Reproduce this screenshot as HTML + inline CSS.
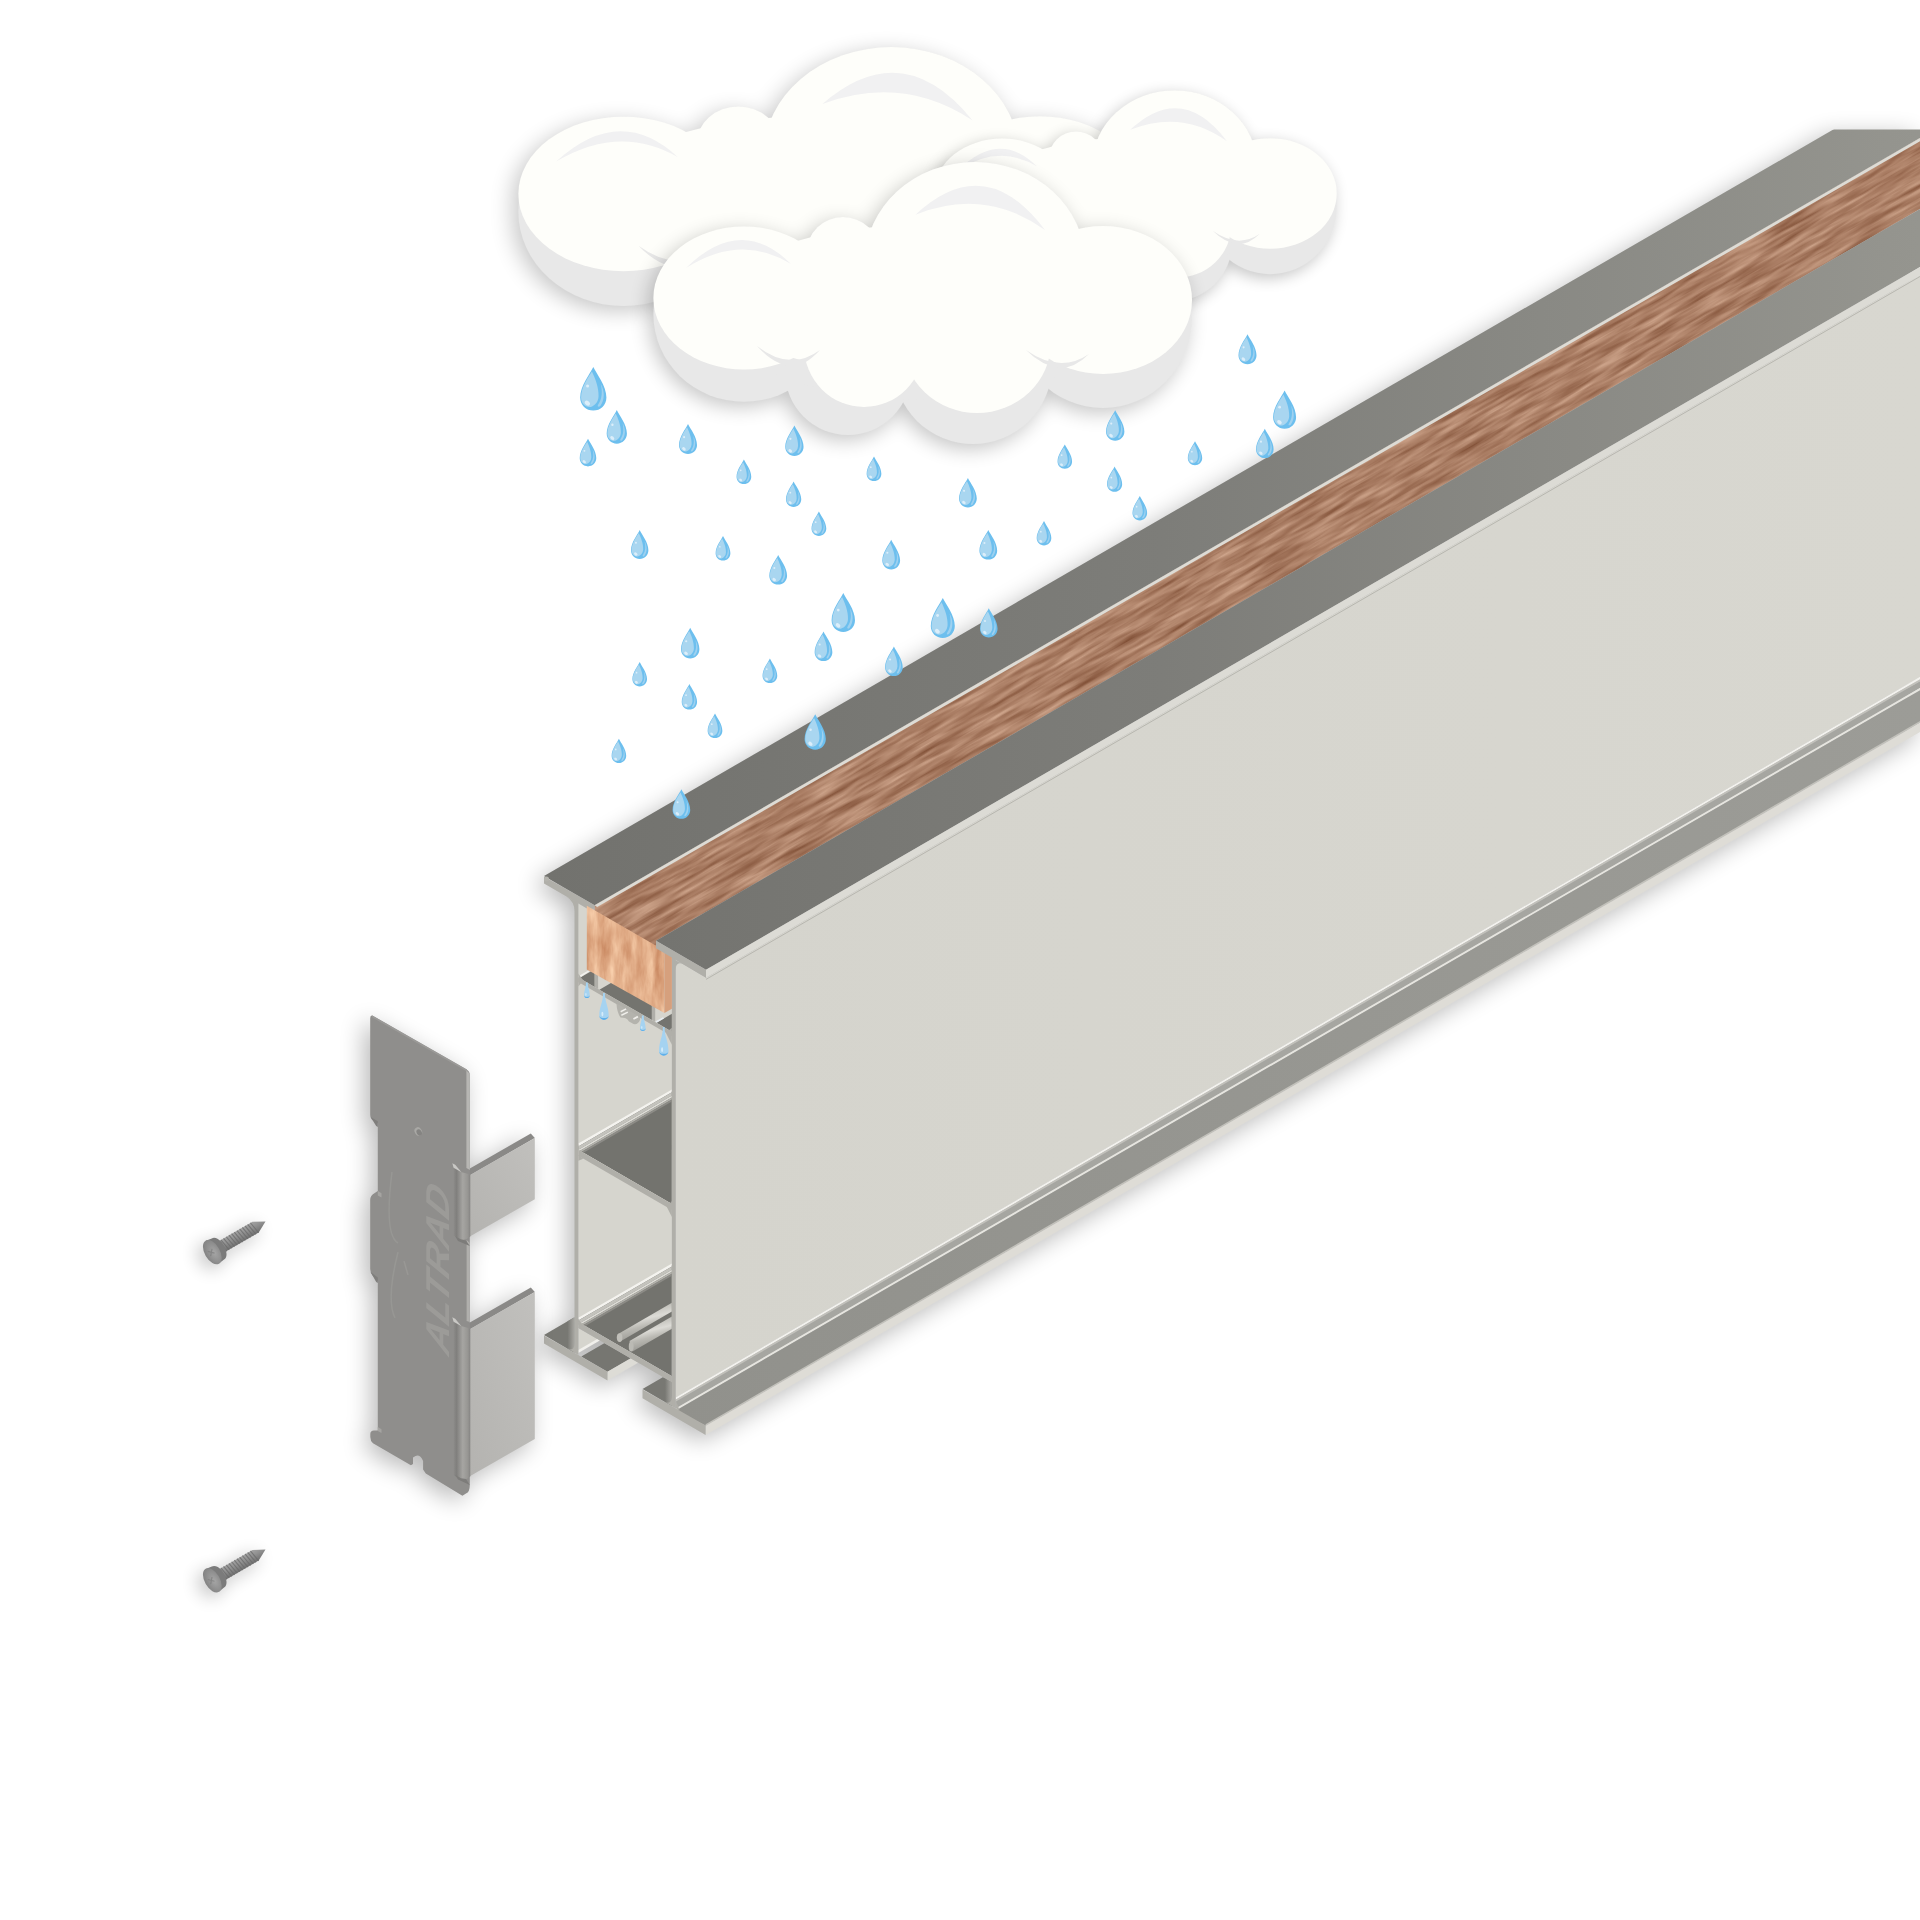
<!DOCTYPE html>
<html><head><meta charset="utf-8"><title>Drainage beam illustration</title>
<style>html,body{margin:0;padding:0;background:#fff}svg{display:block}</style></head>
<body>
<svg width="1920" height="1920" viewBox="0 0 1920 1920">
<rect width="1920" height="1920" fill="#ffffff"/>
<defs>
<filter id="sh" x="-10%" y="-10%" width="120%" height="120%" color-interpolation-filters="sRGB">
  <feGaussianBlur in="SourceAlpha" stdDeviation="12"/>
  <feOffset dx="-6" dy="6" result="b"/>
  <feComponentTransfer><feFuncA type="linear" slope="0.28"/></feComponentTransfer>
  <feMerge><feMergeNode/><feMergeNode in="SourceGraphic"/></feMerge>
</filter>
<filter id="she" x="-40%" y="-10%" width="180%" height="120%" color-interpolation-filters="sRGB">
  <feGaussianBlur in="SourceAlpha" stdDeviation="12"/>
  <feOffset dx="-6" dy="6" result="b"/>
  <feComponentTransfer><feFuncA type="linear" slope="0.28"/></feComponentTransfer>
  <feMerge><feMergeNode/><feMergeNode in="SourceGraphic"/></feMerge>
</filter>
<filter id="shc" x="-10%" y="-15%" width="120%" height="135%" color-interpolation-filters="sRGB">
  <feGaussianBlur in="SourceAlpha" stdDeviation="10"/>
  <feOffset dx="-4" dy="5" result="b"/>
  <feComponentTransfer><feFuncA type="linear" slope="0.23"/></feComponentTransfer>
  <feMerge><feMergeNode/><feMergeNode in="SourceGraphic"/></feMerge>
</filter>
<filter id="shs" x="-80%" y="-80%" width="260%" height="260%" color-interpolation-filters="sRGB">
  <feGaussianBlur in="SourceAlpha" stdDeviation="9"/>
  <feOffset dx="-5" dy="5" result="b"/>
  <feComponentTransfer><feFuncA type="linear" slope="0.24"/></feComponentTransfer>
  <feMerge><feMergeNode/><feMergeNode in="SourceGraphic"/></feMerge>
</filter>
<linearGradient id="gTop" gradientUnits="userSpaceOnUse" x1="544" y1="0" x2="1920" y2="0">
  <stop offset="0" stop-color="#72726e"/><stop offset="0.45" stop-color="#7d7d79"/><stop offset="1" stop-color="#95958f"/>
</linearGradient>
<linearGradient id="gFoot" gradientUnits="userSpaceOnUse" x1="676" y1="0" x2="1920" y2="0">
  <stop offset="0" stop-color="#91918c"/><stop offset="1" stop-color="#9c9c97"/>
</linearGradient>
<linearGradient id="gSide" gradientUnits="userSpaceOnUse" x1="676" y1="0" x2="1920" y2="0">
  <stop offset="0" stop-color="#d5d4cd"/><stop offset="1" stop-color="#d8d7d0"/>
</linearGradient>
<filter id="woodT" x="0" y="0" width="100%" height="100%" color-interpolation-filters="sRGB">
  <feTurbulence type="fractalNoise" baseFrequency="0.018 0.2" numOctaves="3" seed="7" result="n"/>
  <feColorMatrix in="n" type="matrix" values="0.40 0 0 0 0.47  0.44 0 0 0 0.275  0.44 0 0 0 0.175  0 0 0 0 1"/>
  <feComposite in2="SourceGraphic" operator="in"/>
</filter>
<filter id="woodF" x="0" y="0" width="100%" height="100%" color-interpolation-filters="sRGB">
  <feTurbulence type="fractalNoise" baseFrequency="0.11 0.028" numOctaves="4" seed="3" result="n"/>
  <feColorMatrix in="n" type="matrix" values="0.24 0 0 0 0.765  0.36 0 0 0 0.50  0.38 0 0 0 0.345  0 0 0 0 1"/>
  <feComposite in2="SourceGraphic" operator="in"/>
</filter>
<linearGradient id="gFold" x1="0" y1="0" x2="1" y2="0">
  <stop offset="0" stop-color="#8c8b89"/><stop offset="0.18" stop-color="#807f7d"/><stop offset="0.55" stop-color="#a6a5a2"/><stop offset="0.85" stop-color="#979693"/><stop offset="1" stop-color="#858482"/>
</linearGradient>
<linearGradient id="gTab" x1="0" y1="1" x2="1" y2="0">
  <stop offset="0" stop-color="#b4b3b0"/><stop offset="1" stop-color="#c1c0bd"/>
</linearGradient>
<linearGradient id="gShaft" x1="0" y1="0" x2="0" y2="1">
  <stop offset="0" stop-color="#a4a4a4"/><stop offset="0.45" stop-color="#8f8f8f"/><stop offset="1" stop-color="#6f6f6f"/>
</linearGradient>
<radialGradient id="gHead" cx="0.6" cy="0.55" r="0.7">
  <stop offset="0" stop-color="#a6a6a6"/><stop offset="1" stop-color="#7c7c7c"/>
</radialGradient>
<linearGradient id="gFil" x1="0" y1="0" x2="1" y2="0"><stop offset="0" stop-color="#787873"/><stop offset="1" stop-color="#a9a8a3"/></linearGradient>
<linearGradient id="gTube" gradientUnits="objectBoundingBox" x1="0" y1="0" x2="0.3" y2="1">
  <stop offset="0" stop-color="#a9a8a2"/><stop offset="0.3" stop-color="#c2c1bb"/><stop offset="0.5" stop-color="#dcdbd6"/><stop offset="0.68" stop-color="#bab9b3"/><stop offset="1" stop-color="#95948f"/>
</linearGradient>
<clipPath id="clipAll"><rect x="0" y="129.5" width="1920" height="1800"/></clipPath>
<g id="drop">
  <path d="M0,0 C3,6.5 12,17 12,28 C12,35 6.6,40 0,40 C-6.6,40 -12,35 -12,28 C-12,17 -3,6.5 0,0Z" fill="#6dbfee"/>
  <path d="M-1.3,4.2 C1.5,10 5.2,19 4.8,27 C4.5,32 1.5,35.5 -2.5,36.6 C-7,37.2 -11.2,33.5 -11.2,28 C-11.2,18.5 -4.2,9 -1.3,4.2Z" fill="#a9d6f0"/>
  <path d="M6.8,15.5 C10.4,22 10.8,30 6.4,35.8 C4.6,37.4 3.2,36.2 4.6,34.2 C8.2,29 8.4,22.5 6.8,15.5Z" fill="#9ed1f0"/>
  <ellipse cx="-5.4" cy="33.2" rx="2.7" ry="1.9" fill="#dceefa" transform="rotate(40 -5.4 33.2)"/>
  <circle cx="-5.2" cy="17.5" r="1.4" fill="#dceefa"/>
</g>
</defs>
<g transform="translate(-239.6,-127.9) scale(1.16,1.08)" filter="url(#shc)">
<g fill="#e8e8e8">
<ellipse cx="744" cy="314.2" rx="90.6" ry="87.6"/>
<ellipse cx="843" cy="252" rx="36" ry="35"/>
<ellipse cx="975" cy="262" rx="110" ry="100"/>
<ellipse cx="1103" cy="317" rx="89" ry="91"/>
<ellipse cx="848" cy="372" rx="63" ry="63"/>
<ellipse cx="973" cy="366" rx="79" ry="78"/>
<ellipse cx="920" cy="315" rx="200" ry="85"/>
</g><g fill="#fefefa">
<ellipse cx="744" cy="298" rx="90.6" ry="71.5"/>
<ellipse cx="843" cy="252" rx="36" ry="35"/>
<ellipse cx="975" cy="262" rx="110" ry="100"/>
<ellipse cx="1103" cy="300" rx="89" ry="74"/>
<ellipse cx="864" cy="346" rx="60" ry="61"/>
<ellipse cx="977" cy="342" rx="74" ry="71"/>
<ellipse cx="920" cy="300" rx="200" ry="75"/>
</g>
<path d="M757,346 Q790,372 820,350 Q805,366 793,366 Q775,366 757,346Z" fill="#e8e8e8"/>
<path d="M1026,350 Q1060,374 1089,354 Q1075,368 1060,368 Q1042,366 1026,350Z" fill="#e8e8e8"/>
<path d="M686,268 Q741,214 791,264 Q741,233 686,268Z" fill="#f1f1f2"/>
<path d="M915.5,214.7 Q985,150 1045,230 Q985,187 915.5,214.7Z" fill="#f1f1f2"/>
</g>
<g transform="translate(446.3,-30.6) scale(0.747,0.747)" filter="url(#shc)">
<g fill="#e8e8e8">
<ellipse cx="744" cy="314.2" rx="90.6" ry="87.6"/>
<ellipse cx="843" cy="252" rx="36" ry="35"/>
<ellipse cx="975" cy="262" rx="110" ry="100"/>
<ellipse cx="1103" cy="317" rx="89" ry="91"/>
<ellipse cx="848" cy="372" rx="63" ry="63"/>
<ellipse cx="973" cy="366" rx="79" ry="78"/>
<ellipse cx="920" cy="315" rx="200" ry="85"/>
</g><g fill="#fefefa">
<ellipse cx="744" cy="298" rx="90.6" ry="71.5"/>
<ellipse cx="843" cy="252" rx="36" ry="35"/>
<ellipse cx="975" cy="262" rx="110" ry="100"/>
<ellipse cx="1103" cy="300" rx="89" ry="74"/>
<ellipse cx="864" cy="346" rx="60" ry="61"/>
<ellipse cx="977" cy="342" rx="74" ry="71"/>
<ellipse cx="920" cy="300" rx="200" ry="75"/>
</g>
<path d="M757,346 Q790,372 820,350 Q805,366 793,366 Q775,366 757,346Z" fill="#e8e8e8"/>
<path d="M1026,350 Q1060,374 1089,354 Q1075,368 1060,368 Q1042,366 1026,350Z" fill="#e8e8e8"/>
<path d="M686,268 Q741,214 791,264 Q741,233 686,268Z" fill="#f1f1f2"/>
<path d="M915.5,214.7 Q985,150 1045,230 Q985,187 915.5,214.7Z" fill="#f1f1f2"/>
</g>
<g transform="translate(0.0,0.0) scale(1,1)" filter="url(#shc)">
<g fill="#e8e8e8">
<ellipse cx="744" cy="314.2" rx="90.6" ry="87.6"/>
<ellipse cx="843" cy="252" rx="36" ry="35"/>
<ellipse cx="975" cy="262" rx="110" ry="100"/>
<ellipse cx="1103" cy="317" rx="89" ry="91"/>
<ellipse cx="848" cy="372" rx="63" ry="63"/>
<ellipse cx="973" cy="366" rx="79" ry="78"/>
<ellipse cx="920" cy="315" rx="200" ry="85"/>
</g><g fill="#fefefa">
<ellipse cx="744" cy="298" rx="90.6" ry="71.5"/>
<ellipse cx="843" cy="252" rx="36" ry="35"/>
<ellipse cx="975" cy="262" rx="110" ry="100"/>
<ellipse cx="1103" cy="300" rx="89" ry="74"/>
<ellipse cx="864" cy="346" rx="60" ry="61"/>
<ellipse cx="977" cy="342" rx="74" ry="71"/>
<ellipse cx="920" cy="300" rx="200" ry="75"/>
</g>
<path d="M757,346 Q790,372 820,350 Q805,366 793,366 Q775,366 757,346Z" fill="#e8e8e8"/>
<path d="M1026,350 Q1060,374 1089,354 Q1075,368 1060,368 Q1042,366 1026,350Z" fill="#e8e8e8"/>
<path d="M686,268 Q741,214 791,264 Q741,233 686,268Z" fill="#f1f1f2"/>
<path d="M915.5,214.7 Q985,150 1045,230 Q985,187 915.5,214.7Z" fill="#f1f1f2"/>
</g>
<g filter="url(#sh)"><g clip-path="url(#clipAll)">
<clipPath id="cWT"><polygon points="594.6,905.3 594.6,911.0 656.0,946.6 656.0,940.8 1930.0,203.2 1930.0,132.1"/></clipPath>
<g clip-path="url(#cWT)"><g transform="rotate(-30.071 586.8 905.8)"><rect x="570" y="890" width="1640" height="90" fill="#b07f62" filter="url(#woodT)"/></g></g>
<polygon points="544.0,876.0 594.6,905.3 1930.0,132.1 1930.0,73.5" fill="url(#gTop)" />
<polygon points="594.6,905.3 597.2,907.1 1930.0,135.4 1930.0,132.1" fill="#dddcd6" />
<polygon points="656.0,940.8 706.0,969.8 1930.0,261.1 1930.0,203.2" fill="url(#gTop)" />
<polygon points="706.0,969.8 706.0,977.8 1930.0,269.1 1930.0,261.1" fill="#dcdbd5" />
<polygon points="675.6,959.7 706.0,977.8 1930.0,269.1 1930.0,671.2 675.6,1397.5" fill="url(#gSide)" />
<line x1="706" y1="979.4" x2="1930" y2="270.7" stroke="#b3b2ac" stroke-width="0.9"/>
<polygon points="675.6,1397.5 675.6,1399.7 1930.0,673.4 1930.0,671.2" fill="#f3f2ee" />
<polygon points="675.6,1399.7 675.6,1401.7 1930.0,675.4 1930.0,673.4" fill="#c2c1bb" />
<polygon points="675.6,1401.7 675.6,1408.5 1930.0,682.2 1930.0,675.4" fill="#a6a6a1" />
<polygon points="675.6,1408.5 675.6,1410.7 1930.0,684.4 1930.0,682.2" fill="#e6e5df" />
<polygon points="675.6,1410.7 1930.0,684.4 1930.0,716.6 705.6,1425.5" fill="url(#gFoot)" />
<polygon points="705.6,1424.2 705.6,1426.1 1930.0,717.2 1930.0,715.3" fill="#c2c1bb" />
<polygon points="705.6,1426.1 705.6,1435.1 1930.0,726.2 1930.0,717.2" fill="#dedcd6" />
<polygon points="578.3,903.4 671.9,957.6 671.9,1376.2 578.3,1322.0" fill="#d6d5ce" />
<polygon points="579.4,978.1 594.7,969.2 594.7,987.0" fill="#74746f" />
<polygon points="599.4,989.7 625.0,974.8 651.9,990.0 651.9,1020.1" fill="#74746f" />
<polygon points="656.6,1022.8 671.9,1013.8 671.9,1031.7" fill="#74746f" />
<polygon points="578.3,976.2 588.3,970.4 589.3,971.6 579.4,978.1" fill="#f2f2ee" />
<polygon points="655.2,1021.6 663.0,1017.2 664.0,1018.4 656.6,1022.7" fill="#e9eef2" />
<clipPath id="cUp"><polygon points="578.3,985.0 671.9,1040.0 671.9,1204.0 578.3,1149.8"/></clipPath>
<g clip-path="url(#cUp)"><polygon points="578.3,1144.8 671.9,1090.6 671.9,1204.0 578.3,1149.8" fill="#73736e" />
<polygon points="578.3,1143.6 671.9,1089.4 671.9,1092.2 578.3,1146.4" fill="#f4f3ef" />
<polygon points="578.3,1146.4 671.9,1092.2 671.9,1095.6 578.3,1149.8" fill="#c4c3bd" />
<polygon points="578.3,1149.8 671.9,1095.6 671.9,1097.6 578.3,1151.8" fill="#deddd7" />
<polygon points="578.3,1151.8 671.9,1097.6 671.9,1099.6 578.3,1153.8" fill="#b3b2ac" />
<polygon points="578.3,1153.8 671.9,1099.6 671.9,1101.6 578.3,1155.8" fill="#8d8c87" /></g>
<clipPath id="cLo"><polygon points="578.3,1156.0 671.9,1210.0 671.9,1376.2 578.3,1322.0"/></clipPath>
<g clip-path="url(#cLo)"><polygon points="578.3,1319.0 671.9,1264.8 671.9,1376.2 578.3,1322.0" fill="#73736e" />
<polygon points="578.3,1317.8 671.9,1263.6 671.9,1266.4 578.3,1320.6" fill="#f4f3ef" />
<polygon points="578.3,1320.6 671.9,1266.4 671.9,1269.8 578.3,1324.0" fill="#c4c3bd" />
<polygon points="578.3,1324.0 671.9,1269.8 671.9,1271.8 578.3,1326.0" fill="#deddd7" />
<polygon points="578.3,1326.0 671.9,1271.8 671.9,1273.8 578.3,1328.0" fill="#b3b2ac" />
<polygon points="578.3,1328.0 671.9,1273.8 671.9,1275.8 578.3,1330.0" fill="#8d8c87" />
<polygon points="619.4,1333.2 671.9,1302.8 671.9,1311.6 619.4,1342.0" fill="url(#gTube)" />
<polygon points="629.5,1341.0 671.9,1316.5 671.9,1328.8 632.5,1351.6" fill="url(#gTube)" />
<ellipse cx="619.6" cy="1337.6" rx="2.8" ry="4.4" fill="#c0bfb9"/>
<ellipse cx="631.2" cy="1346.6" rx="2.4" ry="5" fill="#bbbab4"/>
</g>
<clipPath id="cBel"><polygon points="578.3,1328.0 671.9,1382.2 671.9,1500.0 578.3,1500.0"/></clipPath>
<g clip-path="url(#cBel)">
<polygon points="578.3,1326.0 618.3,1302.8 618.3,1328.8 578.3,1352.0" fill="#d6d5ce" />
<polygon points="578.3,1350.0 618.3,1326.8 618.3,1329.8 578.3,1353.0" fill="#f1f0ec" />
<polygon points="581.3,1356.6 607.5,1371.8 650.0,1347.2 622.0,1333.0" fill="#767671" />
<polygon points="607.5,1371.8 645.0,1350.1 645.0,1358.7 607.5,1380.4" fill="#dddcd6" />
<polygon points="642.5,1389.0 671.9,1372.0 671.9,1406.0" fill="#787873" />
<polygon points="665.0,1376.0 671.9,1372.0 671.9,1406.0 665.0,1402.0" fill="url(#gFil)" />
</g>
<polygon points="544.0,1335.0 574.5,1317.3 574.5,1352.7" fill="#787873" />
<polygon points="567.6,1321.3 574.5,1317.3 574.5,1352.7 567.6,1348.7" fill="url(#gFil)" />
<polygon points="544.0,876.6 594.6,905.3 594.6,908.7 586.8,908.3 544.0,883.5" fill="#b0afa9" />
<circle cx="546.5" cy="879" r="2.5" fill="#b4b3ad"/>
<polygon points="574.5,900.2 578.3,902.4 578.3,1354.9 574.5,1352.7" fill="#b0afa9" />
<polygon points="671.9,956.6 675.6,958.7 675.6,1408.2 671.9,1406.0" fill="#b0afa9" />
<path d="M566.5,896.5 Q574.5,901.7 574.5,911.2 L575.5,901.2Z" fill="#b0afa9"/>
<path d="M683.6,964.3 Q675.6,960.7 675.6,970.7 L674.6,959.7Z" fill="#b0afa9"/>
<polygon points="578.3,977.5 671.9,1031.7 671.9,1036.3 578.3,982.1" fill="#b0afa9" />
<polygon points="578.3,973.5 583.3,980.4 578.3,986.5" fill="#b0afa9" />
<polygon points="671.9,1027.7 665.9,1032.8 671.9,1044.7" fill="#b0afa9" />
<polygon points="594.7,972.0 598.1,974.0 598.1,989.0 594.7,987.0" fill="#b0afa9" />
<polygon points="651.9,1005.0 655.2,1007.0 655.2,1022.0 651.9,1020.1" fill="#b0afa9" />
<path d="M616.5,1003.5 L640,1017 L640,1020 Q638,1025 633.5,1024 L629,1021.5 Q627.5,1018.5 625,1018 L620.5,1017.5 Q616.8,1012 616.5,1003.5Z" fill="#b4b3ad"/>
<path d="M620.3,1011 L625.8,1008.2 L626.5,1009.6 L621,1012.4Z M621,1014.6 L627.5,1011.4 L628.2,1012.8 L621.7,1016Z M633,1018.2 L637.5,1015.8 L638.3,1017.4 L633.8,1019.8Z" fill="#efeeea"/>
<polygon points="578.3,1149.8 671.9,1204.0 671.9,1210.0 578.3,1155.8" fill="#b0afa9" />
<polygon points="578.3,1154.8 583.3,1158.7 578.3,1160.8" fill="#b0afa9" />
<polygon points="671.9,1201.0 666.9,1207.1 671.9,1217.0" fill="#b0afa9" />
<polygon points="578.3,1322.0 671.9,1376.2 671.9,1382.2 578.3,1328.0" fill="#b0afa9" />
<polygon points="578.3,1319.0 582.3,1324.3 578.3,1325.0" fill="#b0afa9" />
<polygon points="544.0,1335.6 607.5,1371.8 607.5,1380.4 544.0,1343.6" fill="#b0afa9" />
<polygon points="642.5,1389.6 705.6,1425.5 705.6,1435.1 642.5,1398.2" fill="#b0afa9" />
<path d="M567.5,1348.6 Q574.5,1351.7 574.5,1342.7 L575.5,1352.7Z" fill="#b0afa9"/>
<path d="M664.9,1402.0 Q671.9,1405.0 671.9,1396.0 L672.9,1406.0Z" fill="#b0afa9"/>
<polygon points="675.6,1399.5 679.6,1410.5 675.6,1408.2" fill="#b0afa9" />
<clipPath id="cWF"><polygon points="586.8,905.8 664.4,950.6 664.4,1013.0 586.8,969.4"/></clipPath>
<g clip-path="url(#cWF)"><rect x="580" y="900" width="90" height="118" fill="#dfa67f" filter="url(#woodF)"/></g>
<polygon points="664.4,950.6 671.9,950.0 671.9,1008.7 664.4,1013.0" fill="#d6a07d" />
<polygon points="656.0,940.8 706.0,969.8 706.0,977.8 656.0,948.3" fill="#b0afa9" />
</g></g>
<g>
<use href="#drop" transform="translate(593.3,366.9) scale(1.093,1.093)"/>
<use href="#drop" transform="translate(616.8,410.0) scale(0.843,0.843)"/>
<use href="#drop" transform="translate(588.0,438.8) scale(0.690,0.690)"/>
<use href="#drop" transform="translate(688.0,424.0) scale(0.750,0.750)"/>
<use href="#drop" transform="translate(794.4,425.5) scale(0.762,0.762)"/>
<use href="#drop" transform="translate(743.9,459.6) scale(0.613,0.613)"/>
<use href="#drop" transform="translate(874.0,456.5) scale(0.613,0.613)"/>
<use href="#drop" transform="translate(793.6,481.5) scale(0.637,0.637)"/>
<use href="#drop" transform="translate(818.9,511.4) scale(0.615,0.615)"/>
<use href="#drop" transform="translate(639.7,530.0) scale(0.725,0.725)"/>
<use href="#drop" transform="translate(723.0,536.0) scale(0.615,0.615)"/>
<use href="#drop" transform="translate(778.2,555.0) scale(0.740,0.740)"/>
<use href="#drop" transform="translate(891.2,539.8) scale(0.742,0.742)"/>
<use href="#drop" transform="translate(843.3,593.0) scale(0.975,0.975)"/>
<use href="#drop" transform="translate(942.8,598.0) scale(1.000,1.000)"/>
<use href="#drop" transform="translate(690.2,627.8) scale(0.767,0.767)"/>
<use href="#drop" transform="translate(823.5,631.5) scale(0.738,0.738)"/>
<use href="#drop" transform="translate(893.9,646.6) scale(0.735,0.735)"/>
<use href="#drop" transform="translate(639.7,662.0) scale(0.610,0.610)"/>
<use href="#drop" transform="translate(769.9,658.5) scale(0.613,0.613)"/>
<use href="#drop" transform="translate(689.4,684.0) scale(0.640,0.640)"/>
<use href="#drop" transform="translate(715.0,713.5) scale(0.613,0.613)"/>
<use href="#drop" transform="translate(618.9,738.8) scale(0.608,0.608)"/>
<use href="#drop" transform="translate(815.2,714.3) scale(0.885,0.885)"/>
<use href="#drop" transform="translate(1247.5,334.2) scale(0.750,0.750)"/>
<use href="#drop" transform="translate(1284.6,390.4) scale(0.957,0.957)"/>
<use href="#drop" transform="translate(1264.8,428.8) scale(0.733,0.733)"/>
<use href="#drop" transform="translate(1115.2,410.2) scale(0.765,0.765)"/>
<use href="#drop" transform="translate(1195.0,441.2) scale(0.600,0.600)"/>
<use href="#drop" transform="translate(1064.8,444.6) scale(0.605,0.605)"/>
<use href="#drop" transform="translate(1114.6,466.5) scale(0.630,0.630)"/>
<use href="#drop" transform="translate(1139.8,496.0) scale(0.610,0.610)"/>
<use href="#drop" transform="translate(967.9,477.9) scale(0.740,0.740)"/>
<use href="#drop" transform="translate(1044.0,521.0) scale(0.610,0.610)"/>
<use href="#drop" transform="translate(988.3,530.0) scale(0.740,0.740)"/>
<use href="#drop" transform="translate(988.8,608.3) scale(0.730,0.730)"/>
</g>
<path d="M586.0,982.5 L587.8,982.5 C587.8,987.9 589.7,990.2 589.7,995.2 A2.8,2.8 0 0 1 584.1,995.2 C584.1,990.2 586.0,987.9 586.0,982.5Z" fill="#a5d3f1"/><path d="M584.1,995.2 A2.8,2.8 0 0 0 589.7,995.2 A2.8,1.7 0 0 1 584.1,995.2Z" fill="#5fb0ea"/><ellipse cx="585.9" cy="994.5" rx="0.6" ry="1.4" fill="#d9edfa" opacity="0.9"/>
<path d="M603.1,993.0 L604.9,993.0 C604.9,1002.5 608.7,1006.5 608.7,1015.3 A4.7,4.7 0 0 1 599.3,1015.3 C599.3,1006.5 603.1,1002.5 603.1,993.0Z" fill="#a5d3f1"/><path d="M599.3,1015.3 A4.7,4.7 0 0 0 608.7,1015.3 A4.7,2.8 0 0 1 599.3,1015.3Z" fill="#5fb0ea"/><ellipse cx="602.4" cy="1014.1" rx="1.0" ry="2.4" fill="#d9edfa" opacity="0.9"/>
<path d="M641.9,1015.6 L643.7,1015.6 C643.7,1021.0 645.6,1023.3 645.6,1028.2 A2.8,2.8 0 0 1 640.0,1028.2 C640.0,1023.3 641.9,1021.0 641.9,1015.6Z" fill="#a5d3f1"/><path d="M640.0,1028.2 A2.8,2.8 0 0 0 645.6,1028.2 A2.8,1.7 0 0 1 640.0,1028.2Z" fill="#5fb0ea"/><ellipse cx="641.8" cy="1027.5" rx="0.6" ry="1.4" fill="#d9edfa" opacity="0.9"/>
<path d="M662.9,1027.0 L664.6,1027.0 C664.6,1037.0 668.5,1041.3 668.5,1050.9 A4.7,4.7 0 0 1 659.0,1050.9 C659.0,1041.3 662.9,1037.0 662.9,1027.0Z" fill="#a5d3f1"/><path d="M659.0,1050.9 A4.7,4.7 0 0 0 668.5,1050.9 A4.7,2.8 0 0 1 659.0,1050.9Z" fill="#5fb0ea"/><ellipse cx="662.1" cy="1049.7" rx="1.0" ry="2.4" fill="#d9edfa" opacity="0.9"/>
<use href="#drop" transform="translate(681.4,789.3) scale(0.735,0.735)"/>
<g filter="url(#she)">
<polygon points="466.8,1170.2 530.8,1133.6 534.8,1138.0 469.8,1175.2" fill="#8a8987" />
<polygon points="469.8,1175.2 534.8,1138.0 534.8,1199.2 469.8,1236.4" fill="url(#gTab)" />
<polygon points="466.8,1324.2 530.8,1287.6 534.8,1292.0 469.8,1329.2" fill="#8a8987" />
<polygon points="469.8,1329.2 534.8,1292.0 534.8,1439.1 469.8,1476.3" fill="url(#gTab)" />
<path d="M370.2,1018.3 Q370.2,1014.3 373.5,1016.2 L466.5,1069.6 Q469.8,1071.5 469.8,1075 L469.8,1485 Q469.8,1492 466,1493.5 L462.4,1495.8 L425.8,1473.4 L423.1,1469.4 L423.1,1461 Q420,1454 415.5,1456 L413,1457.5 L413,1464 L410.9,1465.3 L373,1443.2 Q370.3,1441 370.3,1437 L370.3,1434 Q370.3,1430.5 374,1430.5 L377.8,1430.5 L377.8,1281.6 L373,1276 Q370.2,1273 370.2,1269 L370.2,1200 Q370.2,1196 374,1193.6 L377.8,1191 L377.8,1123.5 L373.2,1120.6 Q370.2,1118.5 370.2,1114.5 Z" fill="#8f8e8c"/>
<polygon points="372.0,1015.3 467.0,1069.6 467.0,1071.6 372.0,1017.3" fill="#9b9a98" />
<polygon points="466.4,1070.5 469.8,1073.5 469.8,1170.0 466.4,1168.0" fill="#b7b6b3" />
<polygon points="466.6,1240.0 469.8,1243.0 469.8,1322.0 466.6,1321.0" fill="#b0afac" />
<polygon points="370.6,1117.0 377.8,1121.2 377.8,1127.0 376.2,1126.0" fill="#7f7e7c" />
<polygon points="377.8,1191.0 381.5,1193.2 381.5,1197.6 377.8,1195.6" fill="#a5a4a1" />
<polygon points="370.6,1272.0 377.8,1277.6 377.8,1283.0 376.2,1282.0" fill="#7f7e7c" />
<polygon points="377.8,1427.0 381.5,1429.2 381.5,1433.0 377.8,1431.0" fill="#a5a4a1" />
<path d="M453.6,1167.6 L461,1172 L470.3,1174.6 L470.3,1236.6 Q466,1241 460,1239.3 L453.6,1235.4 Z" fill="url(#gFold)"/>
<path d="M453.6,1321.6 L461,1326 L470.3,1328.6 L470.3,1476.4 Q466,1480.6 460,1479 L453.6,1475.2 Z" fill="url(#gFold)"/>
<polygon points="452.3,1163.2 455.2,1164.8 461.5,1172.2 453.6,1167.8" fill="#c9c8c5" />
<polygon points="452.3,1317.2 455.2,1318.8 461.5,1326.2 453.6,1321.8" fill="#c9c8c5" />
<polygon points="455.0,1236.0 461.0,1239.5 466.0,1240.5 469.8,1246.0 458.0,1241.0" fill="#7d7c7a" />
<polygon points="455.0,1474.8 461.0,1478.3 466.0,1479.0 469.8,1485.0 458.0,1479.5" fill="#7d7c7a" />
<ellipse cx="418.3" cy="1131.5" rx="3.6" ry="4.4" fill="#a9a8a5" transform="rotate(-30 418.3 1131.5)"/>
<ellipse cx="419.2" cy="1132.4" rx="2.5" ry="3.3" fill="#858482" transform="rotate(-30 419.2 1132.4)"/>
<path d="M392,1172 Q384,1235 398,1243 M398,1252 Q386,1300 395,1318" stroke="#a09f9c" stroke-width="1.6" fill="none" opacity="0.5"/>
<path d="M404,1261 L408,1275" stroke="#a3a29f" stroke-width="1.4" opacity="0.5"/>
<text transform="matrix(0,-1,1,0.583,448.6,1357)" font-family="'Liberation Sans', Arial, sans-serif" font-weight="700" font-style="italic" font-size="33" textLength="165" lengthAdjust="spacingAndGlyphs" fill="#a1a09d" opacity="0.75">ALTRAD</text>
</g>
<g filter="url(#shs)"><g transform="translate(212.3,1252.2) rotate(-30.07)">
<path d="M6,-6.2 L50,-6.2 L61.5,0 L50,6.2 L6,6.2Z" fill="url(#gShaft)"/>
<path d="M10.5,-6.4 L12.7,6.4" stroke="#6a6a6a" stroke-width="1.1" opacity="0.75"/>
<path d="M13.6,-6.4 L15.8,6.4" stroke="#6a6a6a" stroke-width="1.1" opacity="0.75"/>
<path d="M16.7,-6.4 L18.9,6.4" stroke="#6a6a6a" stroke-width="1.1" opacity="0.75"/>
<path d="M19.8,-6.4 L22.0,6.4" stroke="#6a6a6a" stroke-width="1.1" opacity="0.75"/>
<path d="M22.9,-6.4 L25.1,6.4" stroke="#6a6a6a" stroke-width="1.1" opacity="0.75"/>
<path d="M26.0,-6.4 L28.2,6.4" stroke="#6a6a6a" stroke-width="1.1" opacity="0.75"/>
<path d="M29.1,-6.4 L31.3,6.4" stroke="#6a6a6a" stroke-width="1.1" opacity="0.75"/>
<path d="M32.2,-6.4 L34.4,6.4" stroke="#6a6a6a" stroke-width="1.1" opacity="0.75"/>
<path d="M35.3,-6.4 L37.5,6.4" stroke="#6a6a6a" stroke-width="1.1" opacity="0.75"/>
<path d="M38.4,-6.4 L40.6,6.4" stroke="#6a6a6a" stroke-width="1.1" opacity="0.75"/>
<path d="M41.5,-6.4 L43.7,6.4" stroke="#6a6a6a" stroke-width="1.1" opacity="0.75"/>
<path d="M44.6,-6.4 L46.8,6.4" stroke="#6a6a6a" stroke-width="1.1" opacity="0.75"/>
<path d="M47.7,-6.4 L49.9,6.4" stroke="#6a6a6a" stroke-width="1.1" opacity="0.75"/>
<path d="M0,-13.2 L6.5,-12.2 A7,12.2 0 0 1 6.5,12.2 L0,13.2Z" fill="#7b7b7b"/>
<ellipse cx="0" cy="0" rx="7.6" ry="13.3" fill="url(#gHead)"/>
<path d="M-3.5,-3 L1.5,2 M-3.4,2.6 L1.4,-3" stroke="#7d7d7d" stroke-width="1.2" opacity="0.7"/>
</g></g>
<g filter="url(#shs)"><g transform="translate(212.3,1580.3) rotate(-30.07)">
<path d="M6,-6.2 L50,-6.2 L61.5,0 L50,6.2 L6,6.2Z" fill="url(#gShaft)"/>
<path d="M10.5,-6.4 L12.7,6.4" stroke="#6a6a6a" stroke-width="1.1" opacity="0.75"/>
<path d="M13.6,-6.4 L15.8,6.4" stroke="#6a6a6a" stroke-width="1.1" opacity="0.75"/>
<path d="M16.7,-6.4 L18.9,6.4" stroke="#6a6a6a" stroke-width="1.1" opacity="0.75"/>
<path d="M19.8,-6.4 L22.0,6.4" stroke="#6a6a6a" stroke-width="1.1" opacity="0.75"/>
<path d="M22.9,-6.4 L25.1,6.4" stroke="#6a6a6a" stroke-width="1.1" opacity="0.75"/>
<path d="M26.0,-6.4 L28.2,6.4" stroke="#6a6a6a" stroke-width="1.1" opacity="0.75"/>
<path d="M29.1,-6.4 L31.3,6.4" stroke="#6a6a6a" stroke-width="1.1" opacity="0.75"/>
<path d="M32.2,-6.4 L34.4,6.4" stroke="#6a6a6a" stroke-width="1.1" opacity="0.75"/>
<path d="M35.3,-6.4 L37.5,6.4" stroke="#6a6a6a" stroke-width="1.1" opacity="0.75"/>
<path d="M38.4,-6.4 L40.6,6.4" stroke="#6a6a6a" stroke-width="1.1" opacity="0.75"/>
<path d="M41.5,-6.4 L43.7,6.4" stroke="#6a6a6a" stroke-width="1.1" opacity="0.75"/>
<path d="M44.6,-6.4 L46.8,6.4" stroke="#6a6a6a" stroke-width="1.1" opacity="0.75"/>
<path d="M47.7,-6.4 L49.9,6.4" stroke="#6a6a6a" stroke-width="1.1" opacity="0.75"/>
<path d="M0,-13.2 L6.5,-12.2 A7,12.2 0 0 1 6.5,12.2 L0,13.2Z" fill="#7b7b7b"/>
<ellipse cx="0" cy="0" rx="7.6" ry="13.3" fill="url(#gHead)"/>
<path d="M-3.5,-3 L1.5,2 M-3.4,2.6 L1.4,-3" stroke="#7d7d7d" stroke-width="1.2" opacity="0.7"/>
</g></g>
</svg>
</body></html>
